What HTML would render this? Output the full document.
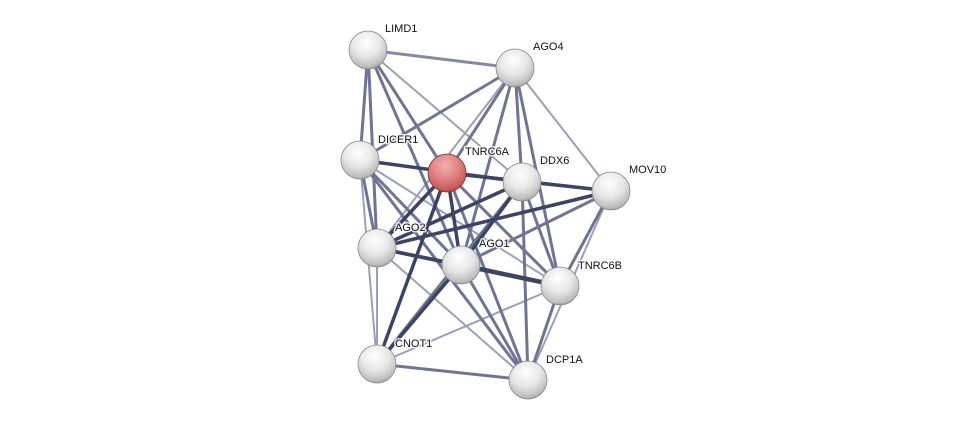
<!DOCTYPE html>
<html><head><style>html,body{margin:0;padding:0;background:#fff}svg{display:block}text{font-family:"Liberation Sans",sans-serif;font-size:11px;fill:#111;stroke:#fff;stroke-width:3px;stroke-opacity:0.85;paint-order:stroke;stroke-linejoin:round}</style></head>
<body>
<svg width="975" height="426" viewBox="0 0 975 426" xmlns="http://www.w3.org/2000/svg">
<defs>
<radialGradient id="g" cx="0.45" cy="0.3" r="0.75">
<stop offset="0" stop-color="#ffffff"/><stop offset="0.5" stop-color="#e6e6e6"/><stop offset="0.85" stop-color="#bdbdbd"/><stop offset="1" stop-color="#909090"/></radialGradient>
<radialGradient id="r" cx="0.45" cy="0.3" r="0.75">
<stop offset="0" stop-color="#f3b0b0"/><stop offset="0.5" stop-color="#e07f7f"/><stop offset="0.85" stop-color="#c55a5a"/><stop offset="1" stop-color="#9e3b3b"/></radialGradient>
</defs>
<g stroke-linecap="round">
<g stroke="#9aa0b8" stroke-width="2">
<line x1="368" y1="50" x2="515" y2="68" stroke-width="3" stroke="#8289a6"/>
<line x1="515" y1="68" x2="611" y2="191"/>
<line x1="360" y1="160" x2="377" y2="364"/>
<line x1="377" y1="248" x2="377" y2="364"/>
<line x1="611" y1="191" x2="528" y2="380"/>
<line x1="377" y1="248" x2="528" y2="380"/>
<line x1="560" y1="286" x2="377" y2="364"/>
<line x1="368" y1="50" x2="522" y2="182"/>
<line x1="360" y1="160" x2="560" y2="286"/>
<line x1="515" y1="68" x2="377" y2="248"/>
</g>
<g stroke="#6e7594" stroke-width="3">
<line x1="368" y1="50" x2="360" y2="160"/>
<line x1="368" y1="50" x2="447" y2="173"/>
<line x1="368" y1="50" x2="377" y2="248"/>
<line x1="368" y1="50" x2="461" y2="265"/>
<line x1="515" y1="68" x2="360" y2="160"/>
<line x1="515" y1="68" x2="447" y2="173"/>
<line x1="515" y1="68" x2="522" y2="182"/>
<line x1="515" y1="68" x2="461" y2="265"/>
<line x1="515" y1="68" x2="560" y2="286"/>
<line x1="360" y1="160" x2="377" y2="248"/>
<line x1="360" y1="160" x2="461" y2="265"/>
<line x1="360" y1="160" x2="528" y2="380"/>
<line x1="447" y1="173" x2="528" y2="380"/>
<line x1="447" y1="173" x2="560" y2="286"/>
<line x1="522" y1="182" x2="560" y2="286"/>
<line x1="522" y1="182" x2="528" y2="380"/>
<line x1="611" y1="191" x2="560" y2="286"/>
<line x1="461" y1="265" x2="528" y2="380"/>
<line x1="560" y1="286" x2="528" y2="380"/>
<line x1="377" y1="364" x2="528" y2="380"/>
<line x1="522" y1="182" x2="377" y2="364"/>
<line x1="611" y1="191" x2="461" y2="265"/>
</g>
<g stroke="#3c4466" stroke-width="3.5">
<line x1="360" y1="160" x2="522" y2="182"/>
<line x1="447" y1="173" x2="611" y2="191"/>
<line x1="447" y1="173" x2="377" y2="248"/>
<line x1="447" y1="173" x2="461" y2="265"/>
<line x1="447" y1="173" x2="377" y2="364"/>
<line x1="522" y1="182" x2="377" y2="248"/>
<line x1="522" y1="182" x2="461" y2="265"/>
<line x1="611" y1="191" x2="377" y2="248"/>
<line x1="377" y1="248" x2="560" y2="286"/>
<line x1="461" y1="265" x2="560" y2="286" stroke-width="4.5"/>
<line x1="461" y1="265" x2="377" y2="364"/>
<line x1="377" y1="248" x2="461" y2="265"/>
</g>
</g>
<g>
<circle cx="368" cy="50" r="19" fill="url(#g)" stroke="#888" stroke-width="0.8"/>
<circle cx="515" cy="68" r="19" fill="url(#g)" stroke="#888" stroke-width="0.8"/>
<circle cx="360" cy="160" r="19" fill="url(#g)" stroke="#888" stroke-width="0.8"/>
<circle cx="447" cy="173" r="19" fill="url(#r)" stroke="#8a2a2a" stroke-width="0.8"/>
<circle cx="522" cy="182" r="19" fill="url(#g)" stroke="#888" stroke-width="0.8"/>
<circle cx="611" cy="191" r="19" fill="url(#g)" stroke="#888" stroke-width="0.8"/>
<circle cx="377" cy="248" r="19" fill="url(#g)" stroke="#888" stroke-width="0.8"/>
<circle cx="461" cy="265" r="19" fill="url(#g)" stroke="#888" stroke-width="0.8"/>
<circle cx="560" cy="286" r="19" fill="url(#g)" stroke="#888" stroke-width="0.8"/>
<circle cx="377" cy="364" r="19" fill="url(#g)" stroke="#888" stroke-width="0.8"/>
<circle cx="528" cy="380" r="19" fill="url(#g)" stroke="#888" stroke-width="0.8"/>
</g>
<g>
<text x="385" y="32">LIMD1</text>
<text x="533" y="50">AGO4</text>
<text x="378" y="143">DICER1</text>
<text x="465" y="155">TNRC6A</text>
<text x="540" y="164">DDX6</text>
<text x="629" y="173">MOV10</text>
<text x="395" y="231">AGO2</text>
<text x="479" y="247">AGO1</text>
<text x="578" y="269">TNRC6B</text>
<text x="395" y="347">CNOT1</text>
<text x="546" y="363">DCP1A</text>
</g>
</svg>
</body></html>
